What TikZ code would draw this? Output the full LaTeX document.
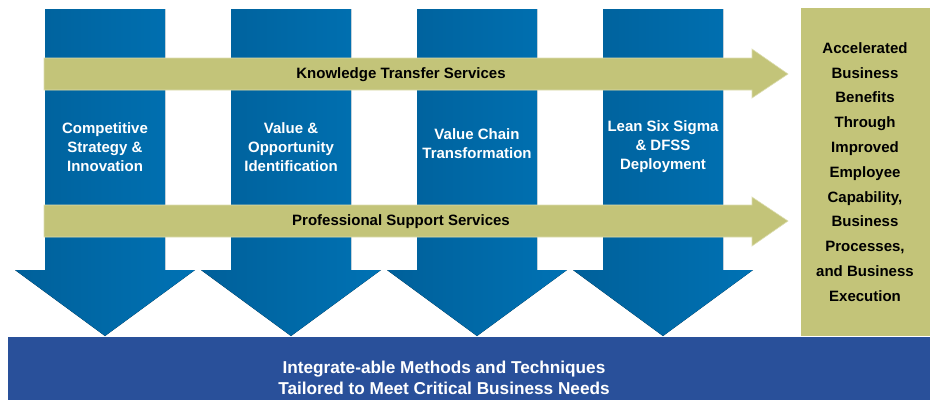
\documentclass[tikz,border=0pt]{standalone}
\usepackage{fontspec}
\setmainfont{Liberation Sans}
\usetikzlibrary{calc}
\definecolor{bluedark}{HTML}{00609A}
\definecolor{bluelight}{HTML}{0072B4}
\definecolor{olivebar}{HTML}{C3C479}
\definecolor{oliveedge}{HTML}{DCDDB0}
\definecolor{basebar}{HTML}{29509A}

\begin{document}
\begin{tikzpicture}[
        x=1pt,y=-1pt
        ,down/.style={left color=bluedark,right color=bluelight,draw=none}
        ,band/.style={fill=olivebar,draw=oliveedge,line width=0.6pt}
        ,lbl/.style={text=white,font=\fontsize{15}{19}\selectfont\bfseries,align=center,inner sep=0pt}
        ,blk/.style={text=black,font=\fontsize{15}{19}\selectfont\bfseries,align=center,inner sep=0pt}
    ]
    \useasboundingbox (0,0) rectangle (930,400);
    \coordinate (sx) at (120,0);
    \coordinate (sy) at (0,261);
    \coordinate (ear) at (30,0);
    % Upper left corners of the shafts
    \coordinate (A) at (45,9);
    \coordinate (B) at ($ (A) + (186,0) $);
    \coordinate (C) at ($ (B) + (186,0) $);
    \coordinate (D) at ($ (C) + (186,0) $);
    % Down arrows
    \fill[down] (A) -- ++(sx) -- ++(sy) -- ++(ear) -- ++(-90,66) -- ++(-90,-66) -- ++(ear) -- cycle;
    \fill[down] (B) -- ++(sx) -- ++(sy) -- ++(ear) -- ++(-90,66) -- ++(-90,-66) -- ++(ear) -- cycle;
    \fill[down] (C) -- ++(sx) -- ++(sy) -- ++(ear) -- ++(-90,66) -- ++(-90,-66) -- ++(ear) -- cycle;
    \fill[down] (D) -- ++(sx) -- ++(sy) -- ++(ear) -- ++(-90,66) -- ++(-90,-66) -- ++(ear) -- cycle;
    % Horizontal bands
    \filldraw[band] (44,58) -- (752,58) -- (752,49) -- (788,74) -- (752,98) -- (752,90) -- (44,90) -- cycle;
    \filldraw[band] (44,205) -- (752,205) -- (752,197) -- (788,221) -- (752,246) -- (752,237) -- (44,237) -- cycle;
    % Result box and base bar
    \fill[olivebar] (801,8) rectangle (930,336);
    \fill[basebar] (8,337) rectangle (930,400);
    % Texts
    \node[lbl] (strategy) at ($ (A) + (60,138) $) {Competitive\\Strategy \&\\Innovation};
    \node[lbl] (value) at ($ (B) + (60,138) $) {Value \&\\Opportunity\\Identification};
    \node[lbl] (chain) at ($ (C) + (60,135) $) {Value Chain\\Transformation};
    \node[lbl] (lean) at ($ (D) + (60,138) $) {Lean Six Sigma\\\& DFSS\\Deployment};
    \node[blk] (knowledge) at (401,75) {Knowledge Transfer Services};
    \node[blk] (support) at (401,222) {Professional Support Services};
    \node[blk,font=\fontsize{15}{24.8}\selectfont\bfseries] (benefits) at (865,172)
        {Accelerated\\Business\\Benefits\\Through\\Improved\\Employee\\Capability,\\Business\\Processes,\\and Business\\Execution};
    \node[lbl,font=\fontsize{17.2}{21}\selectfont\bfseries] (methods) at (444,378)
        {Integrate-able Methods and Techniques\\Tailored to Meet Critical Business Needs};
\end{tikzpicture}
\end{document}
